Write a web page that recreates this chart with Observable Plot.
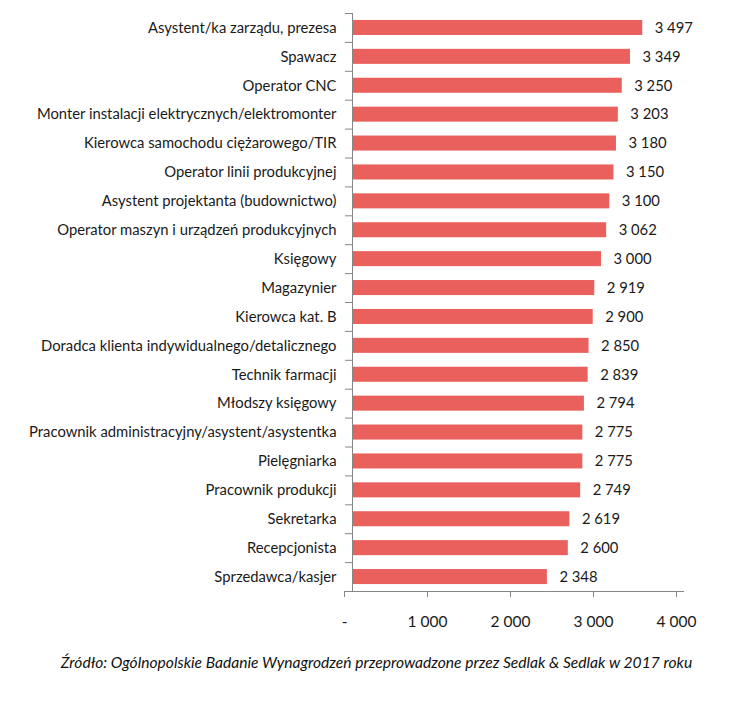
<!DOCTYPE html>
<html>
<head>
<meta charset="utf-8">
<script src="https://cdn.jsdelivr.net/npm/d3@7"></script>
<script src="https://cdn.jsdelivr.net/npm/@observablehq/plot@0.6"></script>
<style>
  body { margin: 0; background: #fff; }
  #chart { width: 753px; }
  #caption { font-family: Lato, "Open Sans", sans-serif; font-style: italic; font-size: 15.6px; color: #111;
    text-align: center; margin-top: 7px; line-height: 20px; width: 753px; }
  .sp { text-decoration: underline wavy #d00; text-decoration-thickness: 1px; text-underline-offset: 3px; }
</style>
</head>
<body>
<div id="chart"></div>
<div id="caption">Źródło: Ogólnopolskie Badanie Wynagrodzeń przeprowadzone przez <span class="sp">Sedlak</span> &amp; <span class="sp">Sedlak</span> w 2017 roku</div>
<script>
const categories = [
  "Asystent/ka zarządu, prezesa",
  "Spawacz",
  "Operator CNC",
  "Monter instalacji elektrycznych/elektromonter",
  "Kierowca samochodu ciężarowego/TIR",
  "Operator linii produkcyjnej",
  "Asystent projektanta (budownictwo)",
  "Operator maszyn i urządzeń produkcyjnych",
  "Księgowy",
  "Magazynier",
  "Kierowca kat. B",
  "Doradca klienta indywidualnego/detalicznego",
  "Technik farmacji",
  "Młodszy księgowy",
  "Pracownik administracyjny/asystent/asystentka",
  "Pielęgniarka",
  "Pracownik produkcji",
  "Sekretarka",
  "Recepcjonista",
  "Sprzedawca/kasjer"
];
const values = [3497, 3349, 3250, 3203, 3180, 3150, 3100, 3062, 3000, 2919, 2900, 2850, 2839, 2794, 2775, 2775, 2749, 2619, 2600, 2348];
const xTicks = [0, 1000, 2000, 3000, 4000];

const data = categories.map((c, i) => ({category: c, value: values[i]}));
const loc = d3.formatLocale({thousands: " ", grouping: [3], decimal: ",", currency: ["", ""]});
const fmt = loc.format(",");

const W = 753, H = 645, mTop = 13, mBottom = 54, mLeft = 352, mRight = 69;
const step = (H - mTop - mBottom) / categories.length;
const font = "Lato, 'Open Sans', sans-serif";
const axisColor = "#868686";
const textColor = "#1a1a1a";

const chart = Plot.plot({
  width: W, height: H,
  marginTop: mTop, marginBottom: mBottom, marginLeft: mLeft, marginRight: mRight,
  style: {fontFamily: font, fontSize: "14.8px", color: textColor, background: "#fff"},
  x: {domain: [0, 4000]},
  y: {domain: categories, paddingInner: 0.48, paddingOuter: 0.24, round: false},
  marks: [
    Plot.barX(data, {x: "value", y: "category", fill: "#EA605C"}),
    Plot.text(data, {x: "value", y: "category", text: d => fmt(d.value), textAnchor: "start", dx: 12, fill: textColor, fontSize: 14.8}),
    Plot.axisY({tickSize: 0, tickPadding: 16, label: null, fill: textColor, fontSize: 14.8}),
    Plot.axisY({tickSize: 7, tickFormat: () => "", label: null, dy: -step / 2, stroke: axisColor}),
    Plot.axisY({ticks: [categories[categories.length - 1]], tickSize: 7, tickFormat: () => "", label: null, dy: step / 2, stroke: axisColor}),
    Plot.ruleX([0], {stroke: axisColor}),
    Plot.ruleY([0], {y: () => categories[categories.length - 1], dy: step / 2, stroke: axisColor}),
    Plot.axisX({ticks: xTicks, tickSize: 6, tickPadding: 18, tickFormat: d => d === 0 ? "-" : fmt(d), label: null, stroke: axisColor, fill: textColor, fontSize: 15.5, dx: -8})
  ]
});
document.getElementById("chart").appendChild(chart);
</script>
</body>
</html>
